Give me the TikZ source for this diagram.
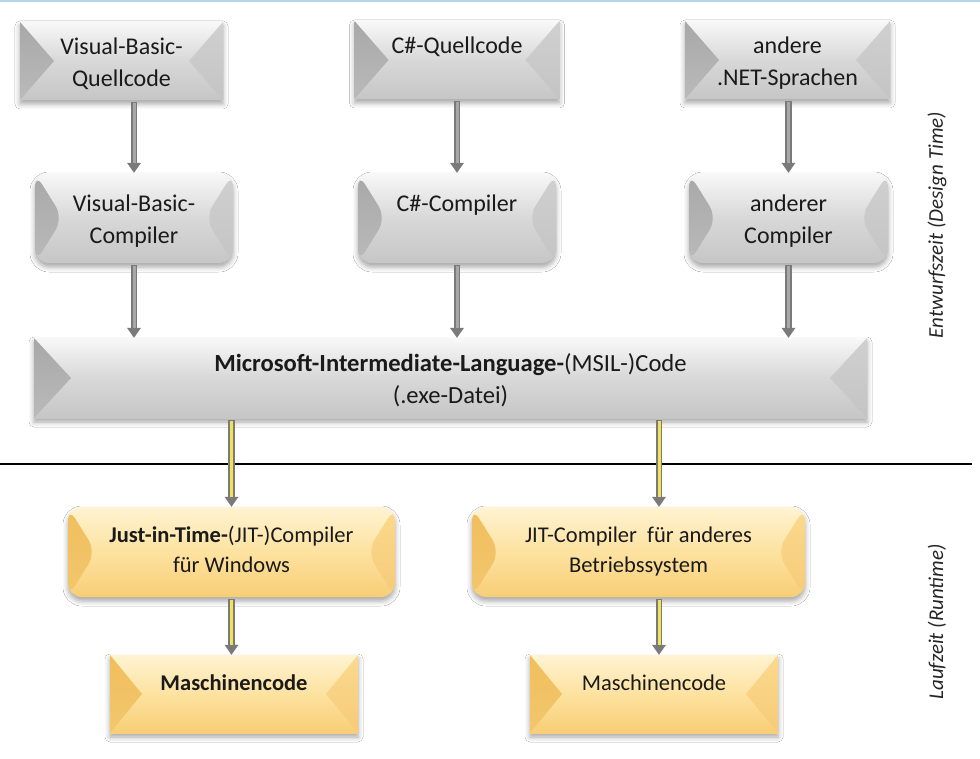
\documentclass[tikz,border=0pt]{standalone}
\usepackage{fontspec}
\setmainfont{Carlito}
\usetikzlibrary{arrows.meta,shadows.blur}

\definecolor{txtcol}{HTML}{1A1A1A}
\definecolor{sidecol}{HTML}{262626}
\definecolor{topblue}{HTML}{B4D5F0}
\definecolor{gtop}{HTML}{F8F8F8}
\definecolor{gmid}{HTML}{D8D8D8}
\definecolor{gbot}{HTML}{C6C6C6}
\definecolor{glt}{HTML}{A8A8A8}
\definecolor{glb}{HTML}{BABABA}
\definecolor{grt}{HTML}{D0D0D0}
\definecolor{grb}{HTML}{C4C4C4}
\definecolor{ytop}{HTML}{FFF3D2}
\definecolor{ymid}{HTML}{FDE2A0}
\definecolor{ybot}{HTML}{F8CE76}
\definecolor{ylt}{HTML}{F0BE5C}
\definecolor{ylb}{HTML}{F3C76E}
\definecolor{yrt}{HTML}{FBD98E}
\definecolor{yrb}{HTML}{F6CB78}
\definecolor{arredge}{HTML}{7A7A7A}
\definecolor{arrgray}{HTML}{A8A8A8}
\definecolor{arryellow}{HTML}{F2E25A}

\newcommand\bevelfill[5]{%
  \shade[top color=#2,bottom color=#3] (path picture bounding box.north west) -- ([xshift=#1]path picture bounding box.west) -- (path picture bounding box.south west) -- cycle;
  \shade[top color=#4,bottom color=#5] (path picture bounding box.north east) -- ([xshift=-#1]path picture bounding box.east) -- (path picture bounding box.south east) -- cycle;}
% vertical text placement helpers
\newcommand\Tg{\rule{0pt}{29pt}}
\newcommand\Bg{\rule[-9.6pt]{0pt}{9.6pt}}
\newcommand\Ty{\rule{0pt}{19.4pt}}
\newcommand\Tym{\rule{0pt}{31.4pt}}
\newcommand\By{\rule[-9pt]{0pt}{9pt}}

\tikzset{
  boxtext/.style={align=center, text=txtcol, font=\fontsize{24}{32}\selectfont, inner sep=0pt},
  ytext/.style={font=\fontsize{22.5}{30}\selectfont},
  shadowed/.style={blur shadow={shadow xshift=0pt, shadow yshift=-4pt, shadow blur radius=5pt, shadow opacity=35}},
  graybevel/.style={boxtext, shadowed, top color=gtop, bottom color=gbot, middle color=gmid,
    path picture={\bevelfill{#1}{glt}{glb}{grt}{grb}}},
  graybevel/.default=34pt,
  yellowbevel/.style={boxtext, ytext, shadowed, top color=ytop, bottom color=ybot, middle color=ymid,
    path picture={\bevelfill{#1}{ylt}{ylb}{yrt}{yrb}}},
  yellowbevel/.default=32pt,
  rbox/.style={rounded corners=14pt},
  arrowouter/.style={draw=arredge, line width=6.5pt, shorten <=2pt,
    -{Triangle[length=10pt,width=14pt,line width=0pt]}},
  arrowgray/.style={draw=arrgray, line width=3pt, shorten <=2.8pt, shorten >=10pt},
  arrowyellow/.style={draw=arryellow, line width=3pt, shorten <=2.8pt, shorten >=10pt},
  sidelabel/.style={rotate=90, text=sidecol, font=\fontsize{21}{24}\selectfont\itshape, inner sep=0pt},
}

\begin{document}
\begin{tikzpicture}[x=1pt, y=-1pt]
\useasboundingbox[fill=white] (0,0) rectangle (980,759);
\fill[topblue] (0,0) rectangle (980,2.5);

% design-time boxes
\node[graybevel, minimum width=203pt, minimum height=78pt] (vbq) at (121.5,61) {\Tg Visual-Basic-\\Quellcode\Bg};
\node[graybevel, minimum width=205pt, minimum height=78pt] (csq) at (457,60) {\Tg C\#-Quellcode\\\Bg};
\node[graybevel, minimum width=205pt, minimum height=78pt] (oq) at (787.5,60) {\Tg andere\\.NET-Sprachen\Bg};

\node[graybevel=28pt, rbox, minimum width=198pt, minimum height=90pt] (vbc) at (134,218) {\Tg Visual-Basic-\\Compiler\Bg};
\node[graybevel=28pt, rbox, minimum width=198pt, minimum height=90pt] (csc) at (457,218) {\Tg C\#-Compiler\\\Bg};
\node[graybevel=28pt, rbox, minimum width=199pt, minimum height=90pt] (oc) at (788.5,218) {\Tg anderer\\Compiler\Bg};

\node[graybevel=37pt, font=\fontsize{24.6}{32}\selectfont, minimum width=833pt, minimum height=80pt] (msil) at (450.5,378)
  {\Tg\textbf{Microsoft-Intermediate-Language-}(MSIL-)Code\\(.exe-Datei)\Bg};

% runtime boxes
\node[yellowbevel=28pt, rbox, minimum width=327pt, minimum height=90pt] (jitw) at (231.5,552)
  {\Ty\textbf{Just-in-Time-}(JIT-)Compiler\\für Windows\By};
\node[yellowbevel=28pt, rbox, minimum width=333pt, minimum height=90pt] (jito) at (638.5,552)
  {\Ty JIT-Compiler\ \ für anderes\\Betriebssystem\By};
\node[yellowbevel, minimum width=248pt, minimum height=78pt] (mcw) at (234,694) {\Tym\textbf{Maschinencode}\\\By};
\node[yellowbevel, minimum width=248pt, minimum height=78pt] (mco) at (654,694) {\Tym Maschinencode\\\By};

% separator
\draw[line width=1.6pt, black] (0,464) -- (972,464);

% side labels
\node[sidelabel] (design) at (937,225) {Entwurfszeit (Design Time)};
\node[sidelabel] (run) at (937,622) {Laufzeit (Runtime)};

% connector anchor points on the MSIL box
\coordinate (m1) at (231.5,418);
\coordinate (m2) at (659,418);
\coordinate (j2) at (659,597);

% gray arrows
\foreach \a/\b in {vbq/vbc, csq/csc, oq/oc}{
  \draw[arrowouter] (\a.south -| \b.north) -- (\b.north);
  \draw[arrowgray]  (\a.south -| \b.north) -- (\b.north);
}
\foreach \b in {vbc, csc, oc}{
  \draw[arrowouter] (\b.south) -- (\b.south |- msil.north);
  \draw[arrowgray]  (\b.south) -- (\b.south |- msil.north);
}

% yellow arrows
\draw[arrowouter]  (m1) -- (m1 |- jitw.north);
\draw[arrowyellow] (m1) -- (m1 |- jitw.north);
\draw[arrowouter]  (m2) -- (m2 |- jito.north);
\draw[arrowyellow] (m2) -- (m2 |- jito.north);
\draw[arrowouter]  (jitw.south) -- (jitw.south |- mcw.north);
\draw[arrowyellow] (jitw.south) -- (jitw.south |- mcw.north);
\draw[arrowouter]  (j2) -- (j2 |- mco.north);
\draw[arrowyellow] (j2) -- (j2 |- mco.north);
\end{tikzpicture}
\end{document}
